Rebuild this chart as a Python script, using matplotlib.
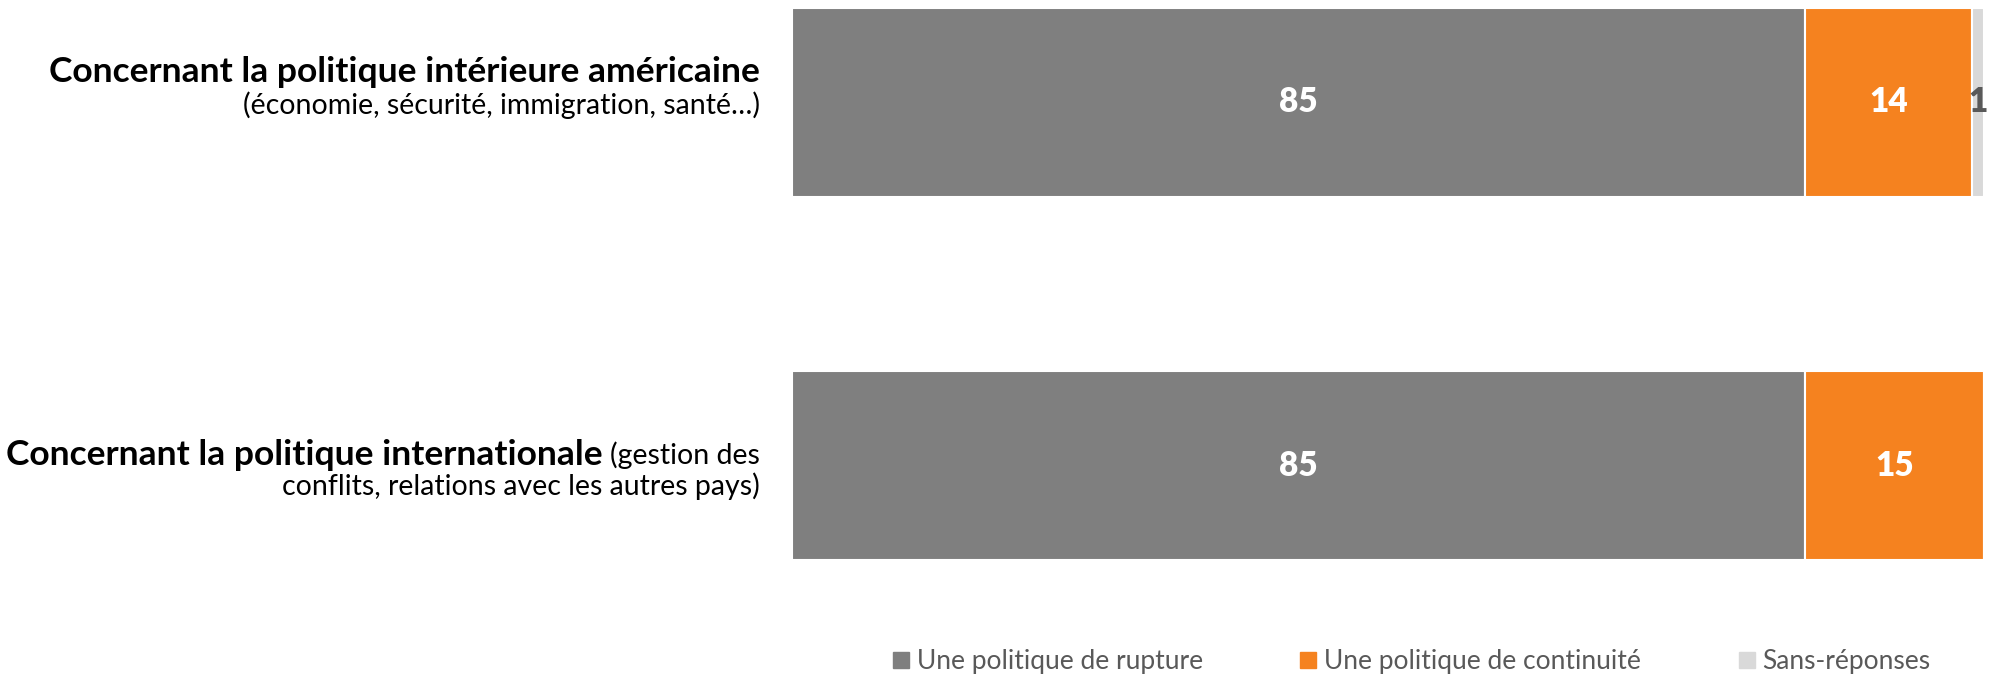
import matplotlib
matplotlib.use('Agg')
import matplotlib.pyplot as plt
from matplotlib.lines import Line2D

plt.rcParams['font.family'] = ['Lato', 'DejaVu Sans']

# data
categories = ['politique intérieure', 'politique internationale']
rupture = [85, 85]
continuite = [14, 15]
sans_reponse = [1, 0]
series_names = ['Une politique de rupture', 'Une politique de continuité', 'Sans-réponses']
colors = ['#7F7F7F', '#F5821F', '#D9D9D9']

fig = plt.figure(figsize=(19.93, 6.75), dpi=100)
ax = fig.add_axes([792 / 1993, 1 - 560 / 675, (1984 - 792) / 1993, (560 - 8) / 675])

ypos = [0, 1]
h = 0.52
left = [0, 0]
for vals, c in zip([rupture, continuite, sans_reponse], colors):
    bars = ax.barh(ypos, vals, left=left, height=h, color=c, edgecolor='white', linewidth=1.5)
    for b, v, l in zip(bars, vals, left):
        if v == 0:
            continue
        xc = l + v / 2
        col = 'white' if v >= 5 else '#595959'
        ax.text(xc, b.get_y() + h / 2, str(v), ha='center', va='center',
                color=col, fontsize=24, fontweight='heavy')
    left = [a + b for a, b in zip(left, vals)]

ax.set_xlim(0, 100)
ax.set_ylim(1 + h / 2, -h / 2)
ax.axis('off')

# category labels
xr = 760 / 1993
fig.text(xr, 1 - 72 / 675, 'Concernant la politique intérieure américaine', ha='right', va='center',
         fontsize=25.5, fontweight='bold', color='black')
fig.text(xr, 1 - 105 / 675, '(économie, sécurité, immigration, santé…)', ha='right', va='center',
         fontsize=20.5, color='black')

t_norm = fig.text(xr, 1 - 455 / 675, '(gestion des', ha='right', va='center', fontsize=20.5, color='black')
fig.canvas.draw()
bb = t_norm.get_window_extent(renderer=fig.canvas.get_renderer())
x_bold = (bb.x0 - 7) / fig.bbox.width
fig.text(x_bold, 1 - 455 / 675, 'Concernant la politique internationale', ha='right', va='center',
         fontsize=25.5, fontweight='bold', color='black')
fig.text(xr, 1 - 486 / 675, 'conflits, relations avec les autres pays)', ha='right', va='center',
         fontsize=20.5, color='black')

handles = [Line2D([0], [0], marker='s', linestyle='', markersize=11, color=c) for c in colors]
leg = fig.legend(handles, series_names, loc='center', bbox_to_anchor=(0.707, 1 - 662 / 675), ncol=3,
                 frameon=False, fontsize=19, columnspacing=3.5, handletextpad=0.1, handlelength=1.0,
                 borderpad=0.1)
for t in leg.get_texts():
    t.set_color('#595959')

fig.savefig('out.png', dpi=100)
